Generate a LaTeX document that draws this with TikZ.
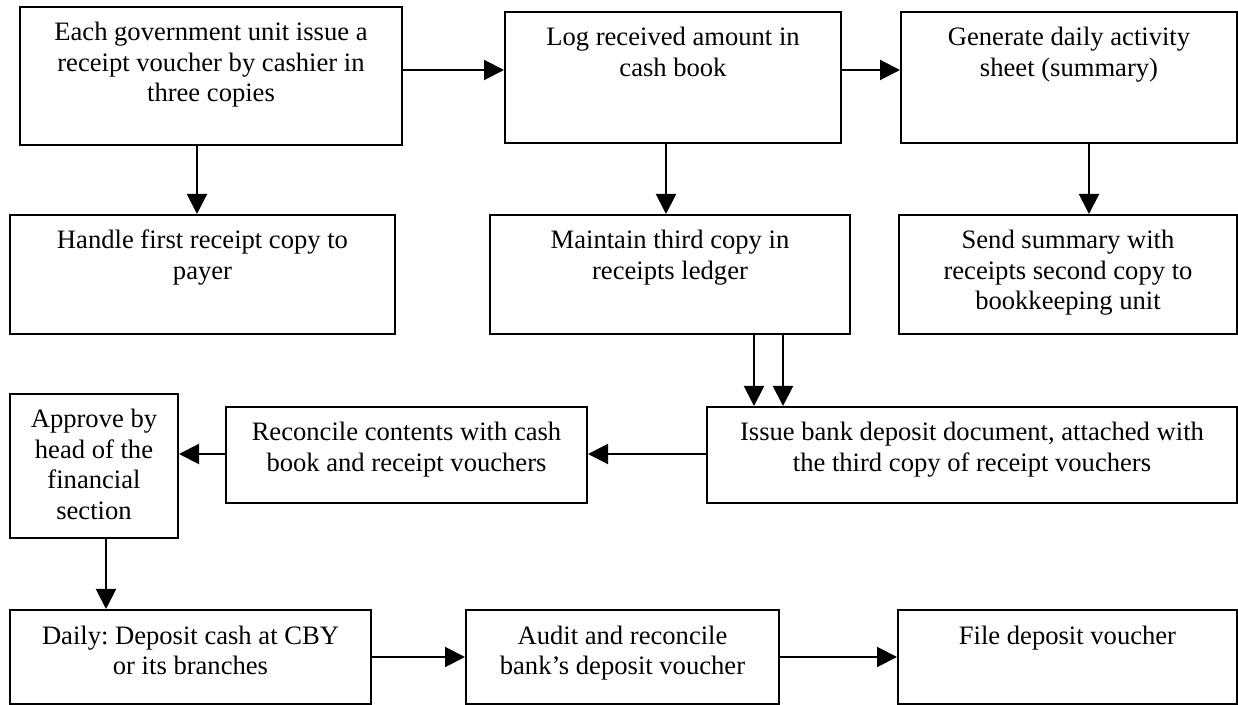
\documentclass[tikz,border=0pt]{standalone}
\usepackage{fontspec}
\setmainfont{Liberation Serif}
\usetikzlibrary{arrows.meta}
\frenchspacing
\newlength\pxu
\setlength\pxu{0.5pt}
% box content: width, height (in px units), top-aligned centred lines
\newcommand\boxtxt[3]{\parbox[c][#2\pxu][t]{#1\pxu}{\centering\rule{0pt}{17pt}#3}}
\begin{document}
\begin{tikzpicture}[x=0.5pt,y=-0.5pt,
  stepbox/.style={draw,line width=1pt,inner sep=0pt,anchor=north west,
    font=\fontsize{13.3pt}{15.25pt}\selectfont},
  arr/.style={line width=1pt,-{Triangle[length=10pt,width=10pt]}}]
\useasboundingbox (0,0) rectangle (1238,705);

% top row
\node[stepbox] (b1) at (19,6) {\boxtxt{382}{138}{Each government unit issue a\\receipt voucher by cashier in\\three copies}};
\node[stepbox] (b2) at (504,11) {\boxtxt{336}{131}{Log received amount in\\cash book}};
\node[stepbox] (b3) at (900,11) {\boxtxt{336}{131}{Generate daily activity\\sheet (summary)}};

% second row
\node[stepbox] (b4) at (9,214) {\boxtxt{385}{119}{Handle first receipt copy to\\payer}};
\node[stepbox] (b5) at (489,214) {\boxtxt{360}{119}{Maintain third copy in\\receipts ledger}};
\node[stepbox] (b6) at (898,214) {\boxtxt{338}{119}{Send summary with\\receipts second copy to\\bookkeeping unit}};

% third row
\node[stepbox] (b7) at (9,393) {\boxtxt{168}{144}{Approve by\\head of the\\financial\\section}};
\node[stepbox] (b8) at (225,406) {\boxtxt{361}{96}{Reconcile contents with cash\\book and receipt vouchers}};
\node[stepbox] (b9) at (706,406) {\boxtxt{530}{96}{Issue bank deposit document, attached with\\the third copy of receipt vouchers}};

% bottom row
\node[stepbox] (b10) at (9,609) {\boxtxt{361}{94}{Daily: Deposit cash at CBY\\or its branches}};
\node[stepbox] (b11) at (465,609) {\boxtxt{313}{94}{Audit and reconcile\\bank’s deposit voucher}};
\node[stepbox] (b12) at (897,609) {\boxtxt{339}{94}{File deposit voucher}};

% guide coordinates for connector positions
\coordinate (ytop) at (0,70);
\coordinate (ymid) at (0,454);
\coordinate (xa) at (197,0);
\coordinate (xb) at (666,0);
\coordinate (xc) at (1089,0);
\coordinate (xd) at (754,0);
\coordinate (xe) at (783,0);
\coordinate (xf) at (106,0);

\draw[arr] (b1.east |- ytop) -- (b2.west |- ytop);
\draw[arr] (b2.east |- ytop) -- (b3.west |- ytop);
\draw[arr] (b1.south -| xa) -- (b4.north -| xa);
\draw[arr] (b2.south -| xb) -- (b5.north -| xb);
\draw[arr] (b3.south -| xc) -- (b6.north -| xc);
\draw[arr] (b5.south -| xd) -- (b9.north -| xd);
\draw[arr] (b5.south -| xe) -- (b9.north -| xe);
\draw[arr] (b9.west |- ymid) -- (b8.east |- ymid);
\draw[arr] (b8.west |- ymid) -- (b7.east |- ymid);
\draw[arr] (b7.south -| xf) -- (b10.north -| xf);
\draw[arr] (b10.east) -- (b11.west);
\draw[arr] (b11.east) -- (b12.west);
\end{tikzpicture}
\end{document}
